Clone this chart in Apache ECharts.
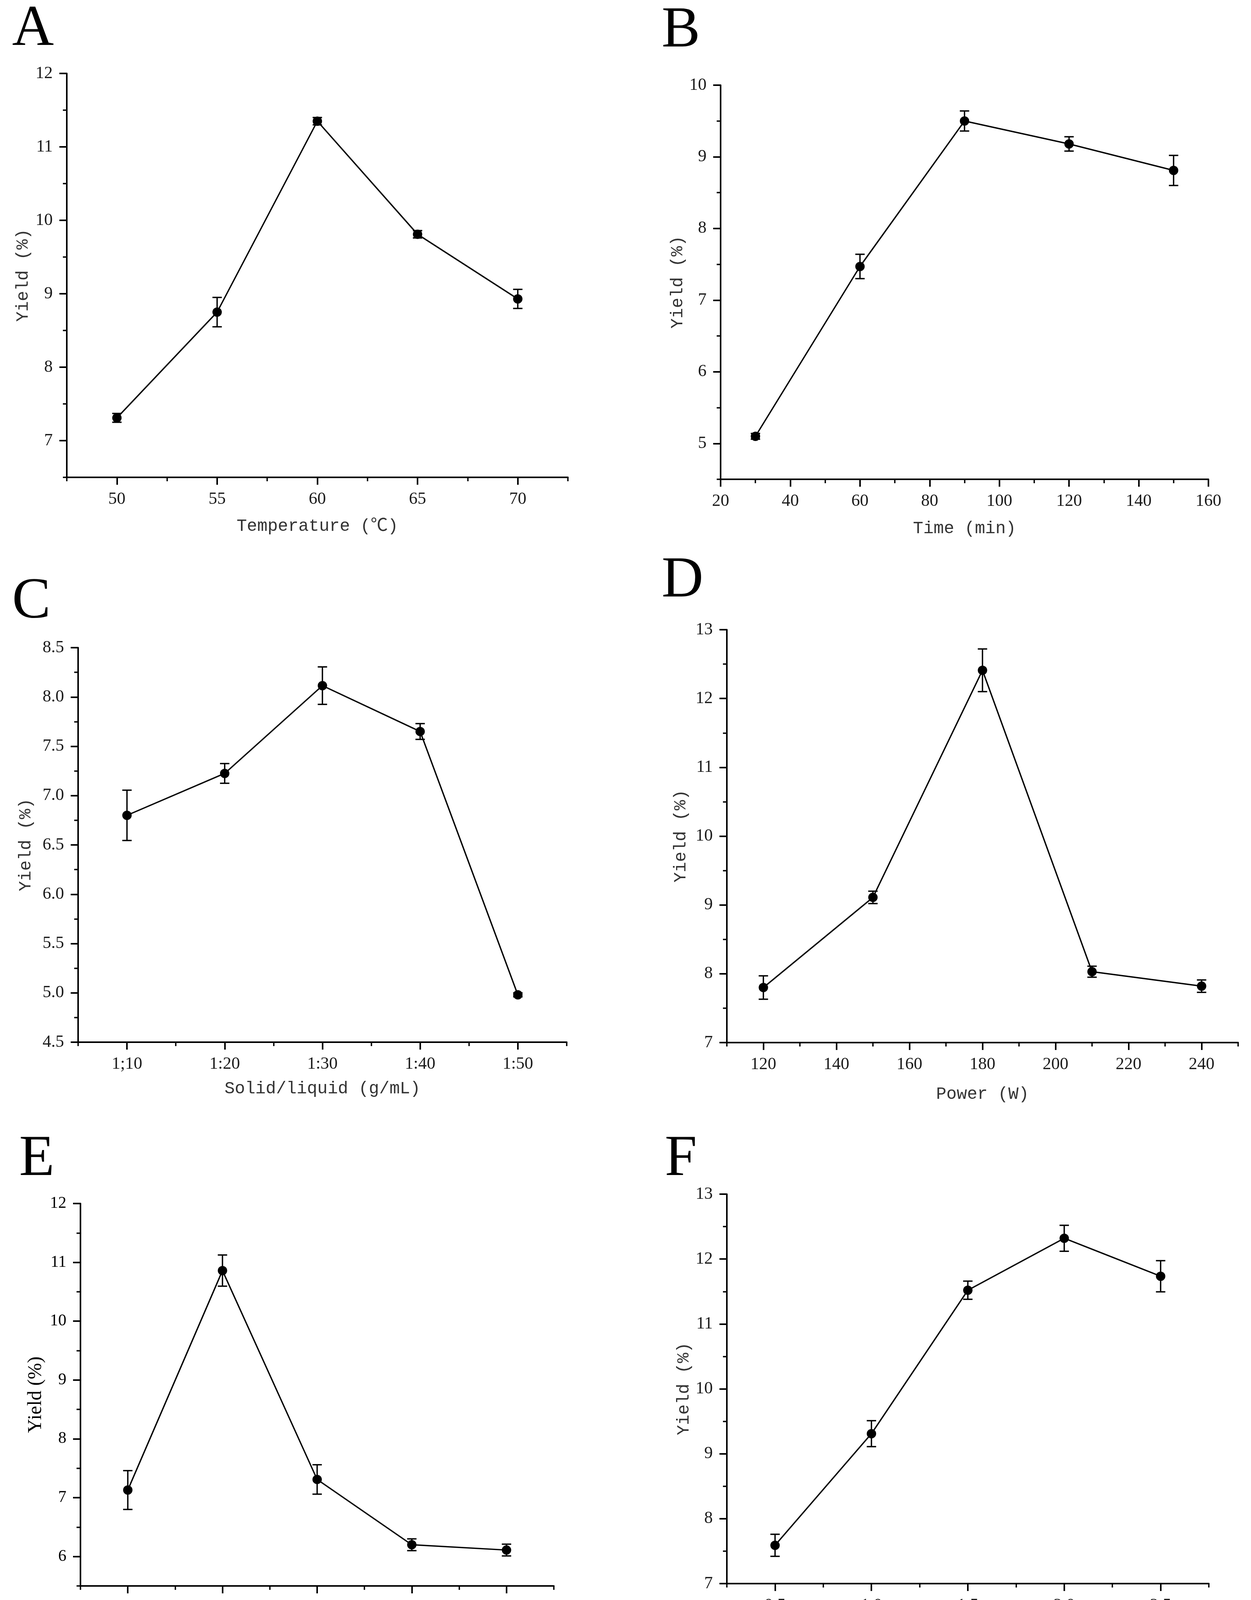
<!DOCTYPE html>
<html>
<head>
<meta charset="utf-8">
<title>Yield single-factor plots</title>
<script src="https://cdn.jsdelivr.net/npm/echarts@6/dist/echarts.min.js"></script>
<style>
  html, body { margin: 0; padding: 0; background: #fff; }
  #main { width: 3203px; height: 4258px; }
</style>
</head>
<body>
<div id="main"></div>
<script>
// A - temperature
var tempX = [50, 55, 60, 65, 70];
var tempYield = [7.31, 8.75, 11.35, 9.81, 8.93];
var tempSd = [0.06, 0.20, 0.05, 0.05, 0.13];
var tempXTicks = [50, 55, 60, 65, 70];
var tempYTicks = [7, 8, 9, 10, 11, 12];

// B - time
var timeX = [30, 60, 90, 120, 150];
var timeYield = [5.10, 7.47, 9.50, 9.18, 8.81];
var timeSd = [0.04, 0.17, 0.14, 0.10, 0.21];
var timeXTicks = [20, 40, 60, 80, 100, 120, 140, 160];
var timeYTicks = [5, 6, 7, 8, 9, 10];

// C - solid/liquid ratio (x is the liquid part of 1:n)
var ratioX = [10, 20, 30, 40, 50];
var ratioLabels = ['1;10', '1:20', '1:30', '1:40', '1:50'];
var ratioYield = [6.80, 7.225, 8.115, 7.65, 4.98];
var ratioSd = [0.255, 0.10, 0.19, 0.08, 0.02];
var ratioYTicks = [4.5, 5.0, 5.5, 6.0, 6.5, 7.0, 7.5, 8.0, 8.5];

// D - power
var powerX = [120, 150, 180, 210, 240];
var powerYield = [7.80, 9.11, 12.41, 8.03, 7.82];
var powerSd = [0.17, 0.09, 0.31, 0.08, 0.09];
var powerXTicks = [120, 140, 160, 180, 200, 220, 240];
var powerYTicks = [7, 8, 9, 10, 11, 12, 13];

// E - pectinase
var pectX = [0.5, 1.0, 1.5, 2.0, 2.5];
var pectYield = [7.13, 10.86, 7.31, 6.20, 6.11];
var pectSd = [0.33, 0.265, 0.25, 0.10, 0.10];
var pectXTicks = [0.5, 1.0, 1.5, 2.0, 2.5];
var pectYTicks = [6, 7, 8, 9, 10, 11, 12];

// F - cellulase
var cellX = [0.5, 1.0, 1.5, 2.0, 2.5];
var cellYield = [7.59, 9.31, 11.52, 12.32, 11.735];
var cellSd = [0.17, 0.20, 0.14, 0.20, 0.24];
var cellXTicks = [0.5, 1.0, 1.5, 2.0, 2.5];
var cellYTicks = [7, 8, 9, 10, 11, 12, 13];

var MONO = '"Liberation Mono", "Noto Sans CJK SC", monospace';
var SERIF = '"Liberation Serif", "Noto Sans CJK SC", serif';

var panels = [
  { letter: 'A', lx: 31, ly: 76, grid: { left: 171, top: 188, width: 1283, height: 1034 },
    x: { min: 47.5, max: 72.5, ticks: tempXTicks, minor: 2.5, name: 'Temperature (\u2103)', gap: 103, dec: 0 },
    y: { min: 6.5, max: 12, ticks: tempYTicks, minor: 0.5, gap: 90, dec: 0 },
    xs: tempX, ys: tempYield, err: tempSd, times: false },
  { letter: 'B', lx: 1694, ly: 80, grid: { left: 1845, top: 218, width: 1249, height: 1009 },
    x: { min: 20, max: 160, ticks: timeXTicks, minor: 10, name: 'Time (min)', gap: 104, dec: 0 },
    y: { min: 4.5, max: 10, ticks: timeYTicks, minor: 0.5, gap: 88, dec: 0 },
    xs: timeX, ys: timeYield, err: timeSd, times: false },
  { letter: 'C', lx: 31, ly: 1542, grid: { left: 200, top: 1658, width: 1251, height: 1010 },
    x: { min: 5, max: 55, ticks: ratioX, minor: 5, name: 'Solid/liquid (g/mL)', gap: 97, labels: ratioLabels },
    y: { min: 4.5, max: 8.5, ticks: ratioYTicks, minor: 0.25, gap: 112, dec: 1 },
    xs: ratioX, ys: ratioYield, err: ratioSd, times: false },
  { letter: 'D', lx: 1694, ly: 1488, grid: { left: 1861, top: 1612, width: 1309, height: 1057 },
    x: { min: 110, max: 250, ticks: powerXTicks, minor: 10, name: 'Power (W)', gap: 110, dec: 0 },
    y: { min: 7, max: 13, ticks: powerYTicks, minor: 0.5, gap: 96, dec: 0 },
    xs: powerX, ys: powerYield, err: powerSd, times: false },
  { letter: 'E', lx: 49, ly: 2969, grid: { left: 206, top: 3081, width: 1212, height: 979 },
    x: { min: 0.25, max: 2.75, ticks: pectXTicks, minor: 0.25, name: 'Pectinase (%)', gap: 107, dec: 1 },
    y: { min: 5.5, max: 12, ticks: pectYTicks, minor: 0.5, gap: 89, dec: 0 },
    xs: pectX, ys: pectYield, err: pectSd, times: true },
  { letter: 'F', lx: 1702, ly: 2969, grid: { left: 1861, top: 3057, width: 1234, height: 997 },
    x: { min: 0.25, max: 2.75, ticks: cellXTicks, minor: 0.25, name: 'Cellulase (%)', gap: 101, dec: 1 },
    y: { min: 7, max: 13, ticks: cellYTicks, minor: 0.5, gap: 88, dec: 0 },
    xs: cellX, ys: cellYield, err: cellSd, times: false }
];

// minor tick positions: every half step between the axis ends, majors skipped
function minorVals(ax) {
  var out = [];
  for (var k = 0; ax.min + k * ax.minor <= ax.max + 1e-9; k++) {
    var v = +(ax.min + k * ax.minor).toFixed(4);
    var isMajor = ax.ticks.some(function (m) { return Math.abs(m - v) < 1e-9; });
    if (!isMajor) out.push(v);
  }
  return out;
}

function labelFormatter(ax) {
  return function (v) {
    if (ax.labels) {
      var i = ax.ticks.indexOf(v);
      return i >= 0 ? ax.labels[i] : '';
    }
    return Number(v).toFixed(ax.dec);
  };
}

function majorAxis(dim, p, gi) {
  var ax = p[dim];
  var nameFont = p.times ? SERIF : MONO;
  return {
    type: 'value', gridIndex: gi, min: ax.min, max: ax.max,
    position: dim === 'x' ? 'bottom' : 'left',
    name: dim === 'x' ? ax.name : 'Yield (%)',
    nameLocation: 'middle', nameGap: ax.gap, nameMoveOverlap: false,
    nameTextStyle: { fontFamily: nameFont, fontSize: p.times ? 50 : 44, color: p.times ? '#000' : '#333' },
    axisLine: { show: true, onZero: false, lineStyle: { color: '#000', width: 4 } },
    axisTick: { show: true, inside: false, length: 19, customValues: ax.ticks,
      lineStyle: { color: '#000', width: 4 } },
    axisLabel: { show: true, margin: dim === 'x' ? 34 : 36, customValues: ax.ticks,
      formatter: labelFormatter(ax), fontFamily: SERIF, fontSize: p.times ? 42 : 44,
      color: p.times ? '#000' : '#1a1a1a',
      showMinLabel: true, showMaxLabel: true, hideOverlap: false },
    splitLine: { show: false },
    minorTick: { show: false }
  };
}

function minorAxis(dim, p, gi) {
  var ax = p[dim];
  return {
    type: 'value', gridIndex: gi, min: ax.min, max: ax.max,
    position: dim === 'x' ? 'bottom' : 'left',
    axisLine: { show: false, onZero: false },
    axisTick: { show: true, inside: false, length: 10, customValues: minorVals(ax),
      lineStyle: { color: '#000', width: 3.5 } },
    axisLabel: { show: false },
    splitLine: { show: false }
  };
}

var grids = [], xAxes = [], yAxes = [], series = [], letters = [];

panels.forEach(function (p, i) {
  grids.push({ left: p.grid.left, top: p.grid.top, width: p.grid.width, height: p.grid.height,
    containLabel: false, outerBoundsMode: 'none' });
  xAxes.push(majorAxis('x', p, i), minorAxis('x', p, i));
  yAxes.push(majorAxis('y', p, i), minorAxis('y', p, i));

  var pts = p.xs.map(function (x, j) { return [x, p.ys[j]]; });
  var bars = p.xs.map(function (x, j) { return [x, p.ys[j] - p.err[j], p.ys[j] + p.err[j]]; });

  series.push({
    type: 'custom', name: p.letter + '-sd', xAxisIndex: 2 * i, yAxisIndex: 2 * i,
    data: bars, encode: { x: 0, y: [1, 2] }, z: 2,
    renderItem: function (params, api) {
      var lo = api.coord([api.value(0), api.value(1)]);
      var hi = api.coord([api.value(0), api.value(2)]);
      var w = 12;
      var st = { stroke: '#000', lineWidth: 3.5 };
      return { type: 'group', children: [
        { type: 'line', shape: { x1: lo[0], y1: lo[1], x2: hi[0], y2: hi[1] }, style: st },
        { type: 'line', shape: { x1: lo[0] - w, y1: lo[1], x2: lo[0] + w, y2: lo[1] }, style: st },
        { type: 'line', shape: { x1: hi[0] - w, y1: hi[1], x2: hi[0] + w, y2: hi[1] }, style: st }
      ] };
    }
  });
  series.push({
    type: 'line', name: p.letter, xAxisIndex: 2 * i, yAxisIndex: 2 * i,
    data: pts, symbol: 'circle', symbolSize: 24, showSymbol: true,
    itemStyle: { color: '#000' }, lineStyle: { color: '#000', width: 3.5 }, z: 3
  });

  letters.push({
    type: 'text', x: p.lx, y: p.ly,
    style: { text: p.letter, font: '148px "Liberation Serif"', fill: '#000',
      textAlign: 'left', textVerticalAlign: 'middle' }
  });
});

var chart = echarts.init(document.getElementById('main'));
chart.setOption({
  backgroundColor: '#fff',
  animation: false,
  grid: grids,
  xAxis: xAxes,
  yAxis: yAxes,
  series: series,
  graphic: letters
});
</script>
</body>
</html>
